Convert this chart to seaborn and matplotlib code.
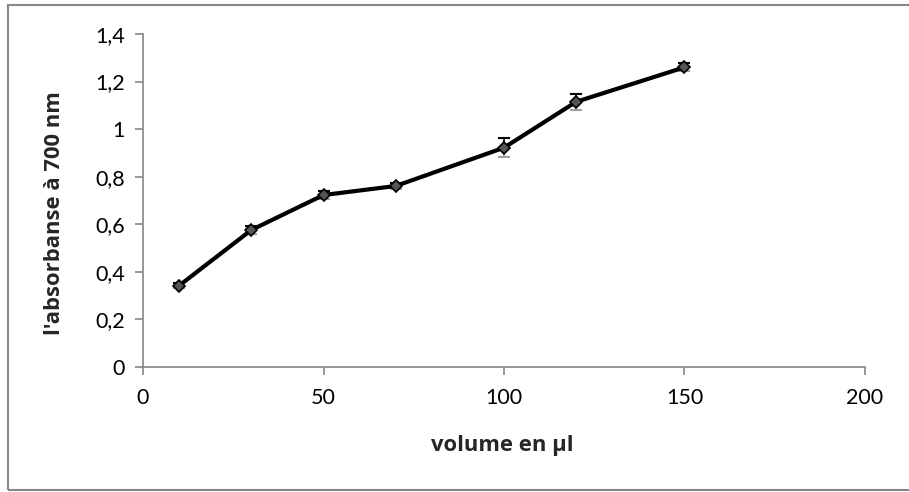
import matplotlib
matplotlib.use("Agg")
import matplotlib.pyplot as plt
import seaborn as sns
import pandas as pd
from matplotlib.patches import Rectangle

volume = [10, 30, 50, 70, 100, 120, 150]
absorbance = [0.342, 0.576, 0.723, 0.761, 0.922, 1.115, 1.260]
errors = [0.010, 0.015, 0.015, 0.012, 0.040, 0.033, 0.017]
x_ticks = [0, 50, 100, 150, 200]
y_ticks = [0, 0.2, 0.4, 0.6, 0.8, 1.0, 1.2, 1.4]
y_tick_labels = ["0", "0,2", "0,4", "0,6", "0,8", "1", "1,2", "1,4"]

df = pd.DataFrame({"volume": volume, "absorbance": absorbance})

sns.set_theme(style="white")
plt.rcParams["font.family"] = ["Lato", "DejaVu Sans"]

fig = plt.figure(figsize=(9.09, 4.92), dpi=100)
ax = fig.add_axes([143 / 909, 1 - 367 / 492, (865 - 143) / 909, (367 - 34) / 492])

gray = "#868686"
# error bars: lower half gray, upper half black
ax.errorbar(volume, absorbance, yerr=[errors, [0] * len(errors)], fmt="none",
            ecolor="#a0a0a0", elinewidth=1.2, capsize=4, capthick=1.5, zorder=2)
ax.errorbar(volume, absorbance, yerr=[[0] * len(errors), errors], fmt="none",
            ecolor="black", elinewidth=1.2, capsize=4, capthick=1.5, zorder=2)

sns.lineplot(data=df, x="volume", y="absorbance", ax=ax, color="black",
             linewidth=3, marker="D", markersize=6.5, markerfacecolor="#555555",
             markeredgecolor="black", markeredgewidth=1.2, zorder=3)

ax.set_xlim(0, 200)
ax.set_ylim(0, 1.4)
ax.set_xticks(x_ticks)
ax.set_xticklabels([str(t) for t in x_ticks])
ax.set_yticks(y_ticks)
ax.set_yticklabels(y_tick_labels)

for s in ["top", "right"]:
    ax.spines[s].set_visible(False)
for s in ["left", "bottom"]:
    ax.spines[s].set_color(gray)
    ax.spines[s].set_linewidth(1.2)

ax.tick_params(axis="both", which="major", direction="out", length=6, width=1.2,
               color=gray, labelsize=15.5, labelcolor="black", pad=7)
ax.tick_params(axis="x", pad=9)
ax.tick_params(left=True, bottom=True)

label_font = dict(family=["Open Sans", "DejaVu Sans"], size=15.8, weight="bold")
ax.set_xlabel("volume en µl", **label_font)
ax.set_ylabel("l'absorbanse à 700 nm", **label_font)
ax.xaxis.set_label_coords(502 / 909, 1 - 445 / 492, transform=fig.transFigure)
ax.yaxis.set_label_coords(55 / 909, 1 - 213 / 492, transform=fig.transFigure)
ax.xaxis.label.set_va("center")
ax.yaxis.label.set_va("center")

fig.patches.append(Rectangle((8 / 909, 1 - 490 / 492), 1.0, (490 - 5) / 492,
                             transform=fig.transFigure, fill=False,
                             edgecolor=gray, linewidth=1.5, zorder=0))

fig.savefig("out.png", dpi=100, facecolor="white")
